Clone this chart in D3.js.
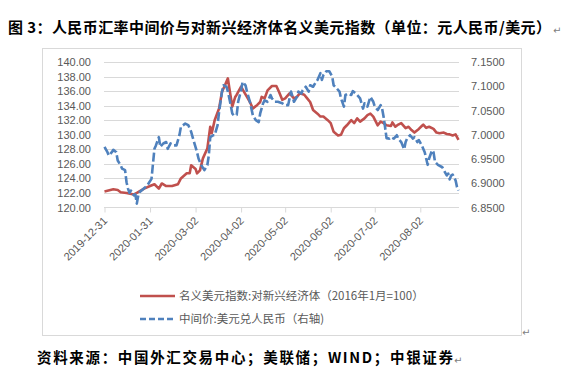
<!DOCTYPE html>
<html><head><meta charset="utf-8">
<script src="https://cdn.jsdelivr.net/npm/d3@7"></script>
<style>
html,body{margin:0;padding:0;background:#fff;}
svg{display:block;}
</style></head>
<body>
<svg id="c" width="566" height="383"></svg>
<script>
const titleText = "图 3：人民币汇率中间价与对新兴经济体名义美元指数（单位：元人民币/美元）";
const sourceText = "资料来源：中国外汇交易中心；美联储；WIND；中银证券";
const legendNames = ["名义美元指数:对新兴经济体（2016年1月=100）", "中间价:美元兑人民币（右轴)"];
const xTickDates = ["2019-12-31","2020-01-31","2020-03-02","2020-04-02","2020-05-02","2020-06-02","2020-07-02","2020-08-02"];
const leftTicks = [120,122,124,126,128,130,132,134,136,138,140];
const rightTicks = [6.85,6.90,6.95,7.00,7.05,7.10,7.15];

const redDates = ["2019-12-31","2020-01-06","2020-01-09","2020-01-11","2020-01-15","2020-01-20","2020-01-22","2020-01-27","2020-01-31","2020-02-03","2020-02-06","2020-02-08","2020-02-11","2020-02-15","2020-02-19","2020-02-21","2020-02-25","2020-02-27","2020-02-28","2020-03-02","2020-03-03","2020-03-05","2020-03-07","2020-03-10","2020-03-12","2020-03-13","2020-03-15","2020-03-18","2020-03-20","2020-03-22","2020-03-24","2020-03-25","2020-03-27","2020-03-29","2020-03-30","2020-04-02","2020-04-04","2020-04-06","2020-04-08","2020-04-10","2020-04-13","2020-04-15","2020-04-16","2020-04-18","2020-04-20","2020-04-23","2020-04-26","2020-04-28","2020-04-30","2020-05-02","2020-05-05","2020-05-08","2020-05-10","2020-05-12","2020-05-15","2020-05-17","2020-05-19","2020-05-21","2020-05-24","2020-05-26","2020-05-28","2020-05-31","2020-06-02","2020-06-04","2020-06-07","2020-06-09","2020-06-11","2020-06-13","2020-06-16","2020-06-18","2020-06-20","2020-06-22","2020-06-25","2020-06-27","2020-06-29","2020-07-01","2020-07-04","2020-07-06","2020-07-08","2020-07-10","2020-07-13","2020-07-14","2020-07-16","2020-07-18","2020-07-20","2020-07-23","2020-07-25","2020-07-27","2020-07-29","2020-08-01","2020-08-03","2020-08-04","2020-08-06","2020-08-08","2020-08-11","2020-08-13","2020-08-15","2020-08-18","2020-08-20","2020-08-22","2020-08-24","2020-08-26","2020-08-28"];
const redValues = [122.2,122.5,122.4,122.1,122.0,121.8,122.0,122.6,122.95,123.2,122.6,123.3,122.95,122.95,123.2,124.0,124.7,124.7,125.8,125.3,124.7,125.1,126.75,128.1,131.1,130.2,132.0,133.6,135.9,136.8,137.75,136.4,133.85,135.2,135.5,136.6,135.9,135.2,134.5,133.6,134.1,134.5,135.2,135.0,136.1,136.7,136.7,135.8,134.8,135.0,135.7,135.0,135.2,135.7,135.5,135.0,134.5,133.4,132.9,132.5,132.5,132.0,131.6,130.4,129.9,130.0,130.9,131.3,132.0,131.6,132.25,131.8,132.25,132.7,132.9,132.5,131.3,131.8,131.6,131.3,131.2,131.7,131.1,131.4,131.6,130.9,131.1,130.65,130.3,130.8,131.2,131.4,130.95,131.1,130.8,130.3,130.2,130.3,130.1,130.05,129.9,130.05,129.3];

const blueDates = ["2019-12-31","2020-01-02","2020-01-03","2020-01-05","2020-01-06","2020-01-08","2020-01-09","2020-01-11","2020-01-12","2020-01-14","2020-01-15","2020-01-16","2020-01-17","2020-01-18","2020-01-20","2020-01-21","2020-01-22","2020-01-23","2020-01-24","2020-01-29","2020-02-01","2020-02-03","2020-02-04","2020-02-06","2020-02-07","2020-02-09","2020-02-11","2020-02-12","2020-02-14","2020-02-16","2020-02-18","2020-02-20","2020-02-21","2020-02-24","2020-02-26","2020-02-28","2020-02-29","2020-03-03","2020-03-04","2020-03-06","2020-03-08","2020-03-10","2020-03-11","2020-03-12","2020-03-14","2020-03-15","2020-03-17","2020-03-18","2020-03-20","2020-03-21","2020-03-23","2020-03-24","2020-03-25","2020-03-27","2020-03-28","2020-03-30","2020-03-31","2020-04-02","2020-04-03","2020-04-05","2020-04-06","2020-04-08","2020-04-10","2020-04-12","2020-04-14","2020-04-15","2020-04-17","2020-04-18","2020-04-20","2020-04-22","2020-04-23","2020-04-25","2020-04-27","2020-04-30","2020-05-02","2020-05-04","2020-05-06","2020-05-08","2020-05-10","2020-05-11","2020-05-13","2020-05-14","2020-05-16","2020-05-18","2020-05-19","2020-05-21","2020-05-23","2020-05-24","2020-05-26","2020-05-27","2020-05-28","2020-05-30","2020-06-01","2020-06-03","2020-06-04","2020-06-06","2020-06-08","2020-06-09","2020-06-11","2020-06-12","2020-06-14","2020-06-16","2020-06-17","2020-06-19","2020-06-20","2020-06-22","2020-06-24","2020-06-25","2020-06-27","2020-06-29","2020-07-01","2020-07-02","2020-07-04","2020-07-06","2020-07-07","2020-07-08","2020-07-09","2020-07-10","2020-07-12","2020-07-13","2020-07-15","2020-07-17","2020-07-18","2020-07-20","2020-07-22","2020-07-23","2020-07-24","2020-07-26","2020-07-28","2020-07-29","2020-07-31","2020-08-01","2020-08-03","2020-08-05","2020-08-06","2020-08-07","2020-08-08","2020-08-10","2020-08-11","2020-08-12","2020-08-14","2020-08-17","2020-08-18","2020-08-20","2020-08-21","2020-08-22","2020-08-23","2020-08-24","2020-08-26","2020-08-27","2020-08-28"];
const blueValues = [6.975,6.964,6.957,6.964,6.969,6.964,6.947,6.937,6.930,6.927,6.902,6.889,6.880,6.885,6.875,6.877,6.858,6.875,6.882,6.895,6.909,6.971,6.978,6.995,6.975,6.982,6.985,6.971,6.982,6.978,6.978,6.999,7.016,7.023,7.020,7.006,6.995,6.964,6.951,6.937,6.927,6.937,6.957,6.995,6.999,6.999,7.020,7.047,7.089,7.102,7.099,7.089,7.075,7.044,7.040,7.041,7.068,7.092,7.109,7.102,7.089,7.068,7.040,7.030,7.026,7.044,7.065,7.071,7.068,7.082,7.075,7.068,7.068,7.065,7.061,7.061,7.089,7.068,7.078,7.089,7.085,7.092,7.099,7.089,7.102,7.099,7.109,7.113,7.127,7.113,7.123,7.131,7.131,7.120,7.102,7.096,7.089,7.075,7.058,7.082,7.085,7.082,7.090,7.085,7.082,7.075,7.054,7.065,7.058,7.078,7.068,7.058,7.051,7.061,7.054,7.037,7.016,6.993,6.992,6.995,6.992,6.999,6.992,6.985,6.970,6.985,6.992,6.999,6.992,6.995,6.985,6.989,6.978,6.964,6.951,6.938,6.951,6.968,6.964,6.944,6.938,6.933,6.927,6.916,6.920,6.908,6.916,6.918,6.906,6.892,6.885];

const parse = d3.timeParse("%Y-%m-%d");
const svg = d3.select("#c");
const RED = "#c0504d", BLUE = "#4f81bd", GRID = "#d9d9d9", LABEL = "#595959";
const cjk = "'Noto Sans CJK SC', 'Noto Sans', sans-serif";
const num = "'Liberation Sans', Arial, sans-serif";

svg.append("rect").attr("width",566).attr("height",383).attr("fill","#fff");

// title
svg.append("text").attr("x",8).attr("y",28).attr("dy","0.35em")
  .attr("font-family",cjk).attr("font-weight","bold").attr("font-size",15)
  .attr("fill","#000").attr("textLength",543).attr("lengthAdjust","spacing")
  .text(titleText);
svg.append("text").attr("x",553).attr("y",30).attr("dy","0.35em")
  .attr("font-family","'DejaVu Sans'").attr("font-size",10).attr("fill","#808080").text("↵");

// chart frame
svg.append("rect").attr("x",42.5).attr("y",48.5).attr("width",479).attr("height",287)
  .attr("fill","#fff").attr("stroke",GRID).attr("stroke-width",1);
svg.append("text").attr("x",522).attr("y",332).attr("dy","0.35em")
  .attr("font-family","'DejaVu Sans'").attr("font-size",10).attr("fill","#808080").text("↵");

const x = d3.scaleTime().domain([parse("2019-12-31"), parse("2020-08-28")]).range([104.5, 458.5]);
const yL = d3.scaleLinear().domain([120,140]).range([207.5, 62]);
const yR = d3.scaleLinear().domain([6.85,7.15]).range([207.5, 62]);

// gridlines
svg.append("g").selectAll("line").data(leftTicks.slice(1)).join("line")
  .attr("x1",104).attr("x2",459)
  .attr("y1",d=>Math.round(yL(d))+0.5).attr("y2",d=>Math.round(yL(d))+0.5)
  .attr("stroke",GRID).attr("stroke-width",1);

// left axis
const gl = svg.append("g").attr("transform","translate(104,0)")
  .call(d3.axisLeft(yL).tickValues(leftTicks).tickFormat(d3.format(".2f")).tickSize(0).tickPadding(13));
gl.select(".domain").remove();
gl.selectAll("text").attr("font-family",num).attr("font-size",11).attr("fill",LABEL);

// right axis
const gr = svg.append("g").attr("transform","translate(459,0)")
  .call(d3.axisRight(yR).tickValues(rightTicks).tickFormat(d3.format(".4f")).tickSize(0).tickPadding(12));
gr.select(".domain").remove();
gr.selectAll("text").attr("font-family",num).attr("font-size",11).attr("fill",LABEL);

// x axis
const gx = svg.append("g").attr("transform","translate(0,207.5)")
  .call(d3.axisBottom(x).tickValues(xTickDates.map(parse)).tickFormat(d3.timeFormat("%Y-%m-%d")).tickSize(5).tickSizeOuter(0));
gx.select(".domain").attr("stroke",GRID).attr("d","M104,0H459");
gx.selectAll(".tick line").attr("stroke",GRID);
gx.selectAll("text").attr("font-family",num).attr("font-size",11).attr("fill",LABEL)
  .attr("text-anchor","end").attr("dy",null).attr("y",null)
  .attr("transform","translate(3,14) rotate(-45)");

// lines
const redData = d3.zip(redDates.map(parse), redValues);
const blueData = d3.zip(blueDates.map(parse), blueValues);
svg.append("path").datum(redData)
  .attr("d", d3.line().x(d=>x(d[0])).y(d=>yL(d[1])))
  .attr("fill","none").attr("stroke",RED).attr("stroke-width",2.6).attr("stroke-linejoin","round");
svg.append("path").datum(blueData)
  .attr("d", d3.line().x(d=>x(d[0])).y(d=>yR(d[1])))
  .attr("fill","none").attr("stroke",BLUE).attr("stroke-width",2.6).attr("stroke-linejoin","round")
  .attr("stroke-dasharray","9,3");

// legend
const lg = svg.append("g");
const legendY = [296, 319];
const legendColors = [RED, BLUE];
legendNames.forEach((n,i)=>{
  lg.append("line").attr("x1",140).attr("x2",175).attr("y1",legendY[i]).attr("y2",legendY[i])
    .attr("stroke",legendColors[i]).attr("stroke-width",2.6)
    .attr("stroke-dasharray", i===1 ? "6,3" : null);
  lg.append("text").attr("x",179).attr("y",legendY[i]).attr("dy","0.35em")
    .attr("font-family",cjk).attr("font-size",11.5).attr("fill",LABEL).text(n);
});

// source
svg.append("text").attr("x",37).attr("y",358).attr("dy","0.35em")
  .attr("font-family",cjk).attr("font-weight","bold").attr("font-size",14.5)
  .attr("fill","#000").attr("textLength",416).attr("lengthAdjust","spacing")
  .text(sourceText);
svg.append("text").attr("x",454).attr("y",360).attr("dy","0.35em")
  .attr("font-family","'DejaVu Sans'").attr("font-size",10).attr("fill","#808080").text("↵");
</script>
</body></html>
